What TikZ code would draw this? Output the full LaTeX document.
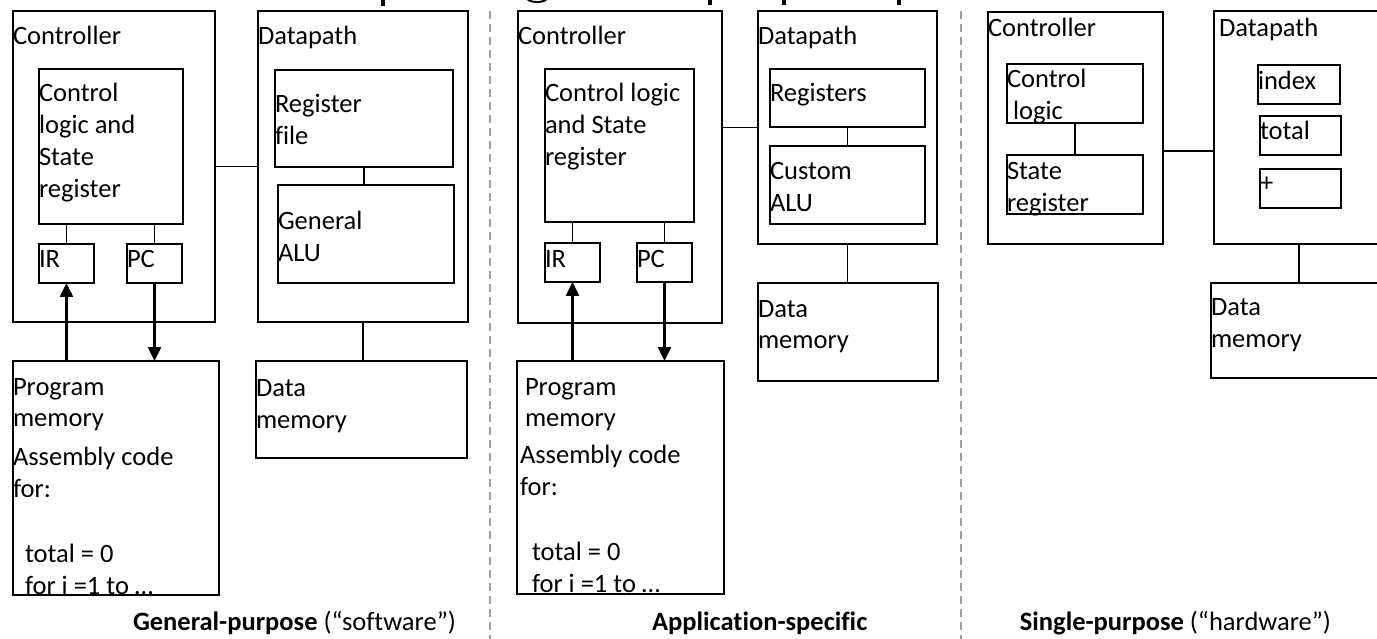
\documentclass[tikz,border=0pt]{standalone}
\usepackage{fontspec}
\setmainfont{Carlito}[Ligatures=NoCommon]
\usetikzlibrary{arrows.meta,calc}
% left-aligned block of lines whose reference point is the first baseline
\newcommand\txtlines[1]{\begin{tabular}[t]{@{}l@{}}#1\end{tabular}}

\begin{document}
\begin{tikzpicture}[x=1pt,y=-1pt,
  box/.style={draw,line width=1.6pt,rectangle,inner sep=0pt,outer sep=0pt,anchor=north west},
  lbl/.style={anchor=base west,inner sep=0pt,outer sep=0pt,font=\fontsize{26.5}{32}\selectfont},
  captxt/.style={inner sep=0pt,outer sep=0pt,font=\fontsize{26.5}{32}\selectfont},
  wire/.style={line width=1.3pt},
  bus/.style={line width=2.5pt,-{Triangle[width=13pt,length=14pt]}},
  sepline/.style={draw=gray!75,line width=1.3pt,dash pattern=on 8pt off 5pt}]

\useasboundingbox (0,0) rectangle (1377,639);
\clip (0,0) rectangle (1377,639);

% descenders of the heading above the panels
\fill (381,0) rectangle (385,6);
\fill (708,0) rectangle (712,5);
\fill (782,0) rectangle (786,5);
\fill (897,0) rectangle (901,5);
\fill (527,0) .. controls (530,4) and (544,4) .. (547,0) -- (543,0) .. controls (540,1.5) and (534,1.5) .. (531,0) -- cycle;

% panel separators
\coordinate (sa) at (490,11);
\coordinate (sb) at (961,11);
\draw[sepline] (sa) -- (sa |- 0,639);
\draw[sepline] (sb) -- (sb |- 0,639);

% ---------------- general-purpose processor ----------------
\node[box,minimum width=202pt,minimum height=311pt] (ctlA) at (13,11) {};
\node[box,minimum width=144pt,minimum height=155pt] (clA) at (39,69) {};
\node[box,minimum width=55pt,minimum height=39pt] (irA) at (39,244) {};
\node[box,minimum width=55pt,minimum height=39pt] (pcA) at (127,244) {};
\node[box,minimum width=210pt,minimum height=311pt] (dpA) at (258,11) {};
\node[box,minimum width=178pt,minimum height=97pt] (rfA) at (275,70) {};
\node[box,minimum width=176pt,minimum height=98pt] (aluA) at (278,185) {};
\node[box,minimum width=211pt,minimum height=97pt] (dmA) at (256,361) {};
\node[box,minimum width=206pt,minimum height=234pt] (pmA) at (13,361) {};

\node[lbl] (tctlA) at (13,45) {Controller};
\node[lbl] (tdpA) at (258,45) {Datapath};
\node[lbl] (tclA) at (39,102) {\txtlines{Control\\logic and\\State\\register}};
\node[lbl] (tirA) at (39,268) {IR};
\node[lbl] (tpcA) at (127,268) {PC};
\node[lbl] (trfA) at (275,113) {\txtlines{Register\\file}};
\node[lbl] (taluA) at (278,230) {\txtlines{General\\ALU}};
\node[lbl] (tdmA) at (256,396) {\txtlines{Data\\memory}};
\node[lbl] (tpmA) at (13,395) {\txtlines{Program\\memory}};
\node[lbl] (tasA) at (13,465) {\txtlines{Assembly code\\for:}};
\node[lbl] (tcoA) at (25,562) {\txtlines{total = 0\\for i =1 to …}};

\draw[wire] (clA.south -| irA.north) -- (irA.north);
\draw[wire] (clA.south -| pcA.north) -- (pcA.north);
\draw[wire] (rfA.south) -- (rfA.south |- aluA.north);
\draw[wire] (ctlA.east) -- (dpA.west);
\draw[wire] (dpA.south) -- (dpA.south |- dmA.north);
\draw[bus] (pmA.north -| irA.south) -- (irA.south);
\draw[bus] (pcA.south) -- (pcA.south |- pmA.north);

\node[captxt,anchor=base west] (capA) at (133,630) {\textbf{General-purpose} (“software”)};

% ---------------- application-specific processor ----------------
\node[box,minimum width=204pt,minimum height=312pt] (ctlB) at (518,11) {};
\node[box,minimum width=149pt,minimum height=153pt] (clB) at (545,69) {};
\node[box,minimum width=55pt,minimum height=39pt] (irB) at (545,243) {};
\node[box,minimum width=55pt,minimum height=39pt] (pcB) at (637,243) {};
\node[box,minimum width=179pt,minimum height=233pt] (dpB) at (758,11) {};
\node[box,minimum width=155pt,minimum height=58pt] (regB) at (770,69) {};
\node[box,minimum width=155pt,minimum height=78pt] (aluB) at (770,146) {};
\node[box,minimum width=180pt,minimum height=98pt] (dmB) at (758,283) {};
\node[box,minimum width=207pt,minimum height=233pt] (pmB) at (517,361) {};

\node[lbl] (tctlB) at (518,45) {Controller};
\node[lbl] (tdpB) at (758,45) {Datapath};
\node[lbl] (tclB) at (545,102) {\txtlines{Control logic\\and State\\register}};
\node[lbl] (tirB) at (545,268) {IR};
\node[lbl] (tpcB) at (637,268) {PC};
\node[lbl] (tregB) at (770,102) {Registers};
\node[lbl] (taluB) at (770,180) {\txtlines{Custom\\ALU}};
\node[lbl] (tdmB) at (758,317) {\txtlines{Data\\memory}};
\node[lbl] (tpmB) at (525,395) {\txtlines{Program\\memory}};
\node[lbl] (tasB) at (520,463) {\txtlines{Assembly code\\for:}};
\node[lbl] (tcoB) at (532,560) {\txtlines{total = 0\\for i =1 to …}};

\draw[wire] (clB.south -| irB.north) -- (irB.north);
\draw[wire] (clB.south -| pcB.north) -- (pcB.north);
\draw[wire] (regB.south) -- (aluB.north);
\draw[wire] (dpB.west -| ctlB.east) -- (dpB.west);
\draw[wire] (dpB.south) -- (dpB.south |- dmB.north);
\draw[bus] (pmB.north -| irB.south) -- (irB.south);
\draw[bus] (pcB.south) -- (pcB.south |- pmB.north);

\node[captxt,anchor=base west] (capB) at (652,630) {\textbf{Application-specific}};

% ---------------- single-purpose processor ----------------
\node[box,minimum width=175pt,minimum height=232pt] (ctlC) at (988,12) {};
\node[box,minimum width=136pt,minimum height=59pt] (clC) at (1007,64) {};
\node[box,minimum width=136pt,minimum height=59pt] (srC) at (1007,155) {};
\node[box,minimum width=200pt,minimum height=233pt] (dpC) at (1214,11) {};
\node[box,minimum width=82pt,minimum height=39pt] (idxC) at (1258,65) {};
\node[box,minimum width=81pt,minimum height=39pt] (totC) at (1260,116) {};
\node[box,minimum width=81pt,minimum height=39pt] (addC) at (1260,169) {};
\node[box,minimum width=200pt,minimum height=95pt] (dmC) at (1211,283) {};

\node[lbl] (tctlC) at (988,37) {Controller};
\node[lbl] (tdpC) at (1219,37) {Datapath};
\node[lbl] (tclC) at (1007,88) {\txtlines{Control\\{\ }logic}};
\node[lbl] (tsrC) at (1007,180) {\txtlines{State\\register}};
\node[lbl] (tidxC) at (1258,90) {index};
\node[lbl] (ttotC) at (1260,140) {total};
\node[lbl] (taddC) at (1260,192) {+};
\node[lbl] (tdmC) at (1211,316) {\txtlines{Data\\memory}};

\coordinate (jC) at (1188,151);
\coordinate (kC) at (1299,260);
\draw[wire] (clC.south) -- (srC.north);
\draw[wire] (jC -| ctlC.east) -- (jC -| dpC.west);
\draw[wire] (kC |- dpC.south) -- (kC |- dmC.north);

\node[captxt,anchor=base east] (capC) at (1331,630) {\textbf{Single-purpose} (“hardware”)};

\end{tikzpicture}
\end{document}
